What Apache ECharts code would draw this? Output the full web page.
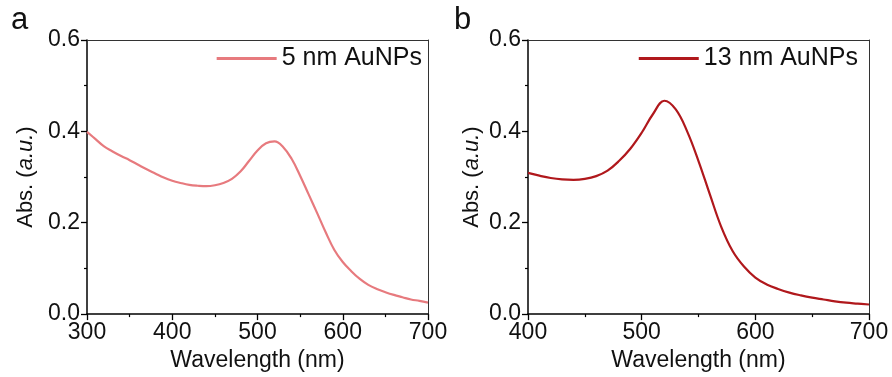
<!DOCTYPE html>
<html>
<head>
<meta charset="utf-8">
<script src="https://cdn.jsdelivr.net/npm/echarts@6/dist/echarts.min.js"></script>
<style>html,body{margin:0;padding:0;background:#fff;}#c{width:892px;height:377px;}</style>
</head>
<body>
<div id="c"></div>
<script>
// Panel a: 5 nm AuNPs
const wavelengthA = [300,310,320,330,340,350,360,370,380,390,400,410,420,430,440,450,460,470,480,490,500,510,520,530,540,550,560,570,580,590,600,610,620,630,640,650,660,670,680,690,700];
const absA = [0.399,0.383,0.367,0.356,0.346,0.337,0.327,0.317,0.308,0.299,0.292,0.287,0.283,0.281,0.280,0.282,0.287,0.296,0.312,0.335,0.358,0.374,0.378,0.366,0.340,0.303,0.262,0.221,0.179,0.141,0.114,0.094,0.077,0.064,0.055,0.048,0.042,0.037,0.032,0.029,0.025];
// Panel b: 13 nm AuNPs
const wavelengthB = [400,410,420,430,440,450,460,470,480,490,500,510,520,530,540,550,560,570,580,590,600,610,620,630,640,650,660,670,680,690,700];
const absB = [0.309,0.303,0.298,0.295,0.294,0.296,0.302,0.314,0.335,0.362,0.397,0.438,0.467,0.448,0.400,0.335,0.262,0.191,0.138,0.104,0.080,0.065,0.055,0.047,0.041,0.036,0.032,0.028,0.025,0.023,0.021];
const xTicksA = [300,400,500,600,700];
const xTicksB = [400,500,600,700];
const yTicks = [0.0,0.2,0.4,0.6];
const seriesNames = ['5 nm AuNPs','13 nm AuNPs'];
const panelLetters = ['a','b'];

const FONT = 'Liberation Sans, Arial, sans-serif';
const chart = echarts.init(document.getElementById('c'), null, {renderer:'canvas'});

function pairs(xs, ys){ return xs.map((x,i)=>[x, ys[i]]); }

function bottomX(gi, ticks){
  return {
    type:'value', gridIndex:gi, min:ticks[0], max:ticks[ticks.length-1], interval:100,
    position:'bottom',
    axisLine:{show:true, onZero:false, lineStyle:{color:'#000', width:1.5}},
    axisTick:{show:true, inside:false, length:6, lineStyle:{color:'#000', width:1.3}},
    minorTick:{show:true, splitNumber:2, length:3, lineStyle:{color:'#000', width:1.2}},
    splitLine:{show:false},
    axisLabel:{fontSize:23, color:'#111', fontFamily:FONT, margin:7},
    name:'Wavelength (nm)', nameLocation:'middle', nameGap:32,
    nameTextStyle:{fontSize:23, color:'#111', fontFamily:FONT}
  };
}
function topX(gi, ticks){
  return {
    type:'value', gridIndex:gi, min:ticks[0], max:ticks[ticks.length-1], position:'top',
    axisLine:{show:true, onZero:false, lineStyle:{color:'#333', width:1}},
    axisTick:{show:false}, axisLabel:{show:false}, splitLine:{show:false}
  };
}
function leftY(gi, gap){
  return {
    type:'value', gridIndex:gi, min:0, max:0.6, interval:0.2, position:'left',
    axisLine:{show:true, onZero:false, lineStyle:{color:'#000', width:1.5}},
    axisTick:{show:true, inside:false, length:6, lineStyle:{color:'#000', width:1.3}},
    minorTick:{show:true, splitNumber:2, length:3, lineStyle:{color:'#000', width:1.2}},
    splitLine:{show:false},
    axisLabel:{fontSize:23, color:'#111', fontFamily:FONT, margin:7, formatter:v=>v.toFixed(1)},
    name:'{n|Abs. (}{i|a.u.}{n|)}', nameLocation:'middle', nameGap:gap,
    nameTextStyle:{fontSize:22, color:'#111', fontFamily:FONT,
      rich:{n:{fontSize:22, color:'#111', fontFamily:FONT}, i:{fontSize:22, color:'#111', fontFamily:FONT, fontStyle:'italic'}}}
  };
}
function rightY(gi){
  return {
    type:'value', gridIndex:gi, min:0, max:0.6, position:'right',
    axisLine:{show:true, onZero:false, lineStyle:{color:'#333', width:1}},
    axisTick:{show:false}, axisLabel:{show:false}, splitLine:{show:false}
  };
}

const option = {
  backgroundColor:'#fff',
  animation:false,
  grid:[
    {left:87, right:464, top:40, bottom:62},
    {left:528, right:23, top:40, bottom:62}
  ],
  xAxis:[bottomX(0,xTicksA), topX(0,xTicksA), bottomX(1,xTicksB), topX(1,xTicksB)],
  yAxis:[leftY(0,50), rightY(0), leftY(1,45), rightY(1)],
  legend:[
    {data:[seriesNames[0]], right:470, top:46, padding:0, itemWidth:60, itemHeight:3, icon:'rect', itemGap:0,
     textStyle:{fontSize:25, color:'#111', fontFamily:FONT}},
    {data:[seriesNames[1]], right:34, top:46, padding:0, itemWidth:60, itemHeight:3, icon:'rect', itemGap:0,
     textStyle:{fontSize:25, color:'#111', fontFamily:FONT}}
  ],
  graphic:[
    {type:'text', left:11, top:5, style:{text:panelLetters[0], fontSize:31, fill:'#111', fontFamily:FONT}},
    {type:'text', left:454, top:5, style:{text:panelLetters[1], fontSize:31, fill:'#111', fontFamily:FONT}}
  ],
  series:[
    {name:seriesNames[0], type:'line', xAxisIndex:0, yAxisIndex:0, data:pairs(wavelengthA, absA),
     smooth:0.4, showSymbol:false, symbol:'none', lineStyle:{color:'#E77A7E', width:2.2}, itemStyle:{color:'#E77A7E'}},
    {name:seriesNames[1], type:'line', xAxisIndex:2, yAxisIndex:2, data:pairs(wavelengthB, absB),
     smooth:0.4, showSymbol:false, symbol:'none', lineStyle:{color:'#B0181C', width:2.2}, itemStyle:{color:'#B0181C'}}
  ]
};
chart.setOption(option);
</script>
</body>
</html>
